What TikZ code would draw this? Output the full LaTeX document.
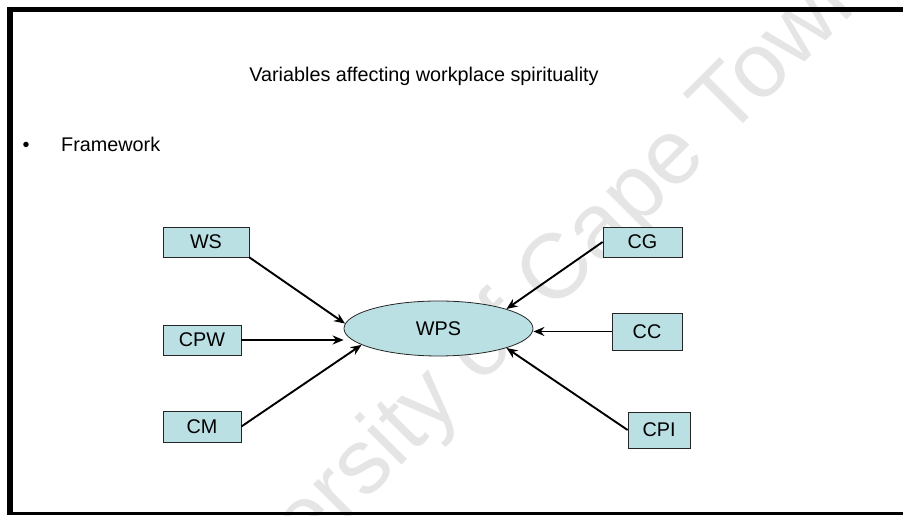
\documentclass[tikz,border=0pt]{standalone}
\usepackage{fontspec}
\setmainfont{Liberation Sans}
\usetikzlibrary{arrows.meta,shapes.geometric}
\definecolor{boxblue}{RGB}{186,224,228}
\definecolor{markgray}{RGB}{229,229,229}

\begin{document}
\begin{tikzpicture}[x=1pt, y=1pt,
    every node/.style={font=\fontsize{19.8}{23}\selectfont},
    var/.style={draw=black!85, line width=0.8pt, fill=boxblue, inner sep=0pt},
    arr/.style={line width=1.9pt, -{Stealth[length=11pt,width=9pt]}}]
    \useasboundingbox (0,0) rectangle (903,516);

    % watermark, behind everything
    \begin{scope}
      \clip (0,0) rectangle (903,516);
      \node[text=markgray, rotate=45, font=\fontsize{92}{96}\selectfont] (mark) at (511,194) {University of Cape Town};
    \end{scope}

    % slide frame
    \draw[line width=5.5pt] (9.75,509) -- (9.75,1);
    \draw[line width=5pt] (7,506.5) -- (903,506.5);
    \draw[line width=3pt] (7,2.5) -- (903,2.5);

    % heading and bullet
    \node[anchor=base] (title) at (424,434) {Variables affecting workplace spirituality};
    \node[anchor=base] (dot) at (26,364.5) {\textbullet};
    \node[anchor=base west, inner sep=0pt] (frame) at (61,364.5) {Framework};

    % central variable
    \node[var, ellipse, minimum width=189pt, minimum height=55pt] (wps) at (438.5,187.5) {WPS};

    % left variables
    \node[var, minimum width=86pt, minimum height=30pt] (ws)  at (206,274)   {WS};
    \node[var, minimum width=78pt, minimum height=30pt] (cpw) at (202,176)   {CPW};
    \node[var, minimum width=78pt, minimum height=31pt] (cm)  at (202,89.5)  {CM};

    % right variables
    \node[var, minimum width=79pt, minimum height=30pt] (cg)  at (642.5,274)   {CG};
    \node[var, minimum width=70pt, minimum height=37pt] (cc)  at (647,184.5)   {CC};
    \node[var, minimum width=62pt, minimum height=36pt] (cpi) at (659,86)      {CPI};

    % arrows into WPS
    \draw[arr] (ws.south east) -- (wps.177);
    \draw[arr] (cpw.east) -- (cpw.east -| wps.west);
    \draw[arr] (cm.east) -- (wps.192);
    \draw[arr] (cg.west) -- (wps.16);
    \draw[arr] (cc.west) -- (cc.west -| wps.east);
    \draw[arr] (cpi.west) -- (wps.344);
  \end{tikzpicture}
\end{document}
